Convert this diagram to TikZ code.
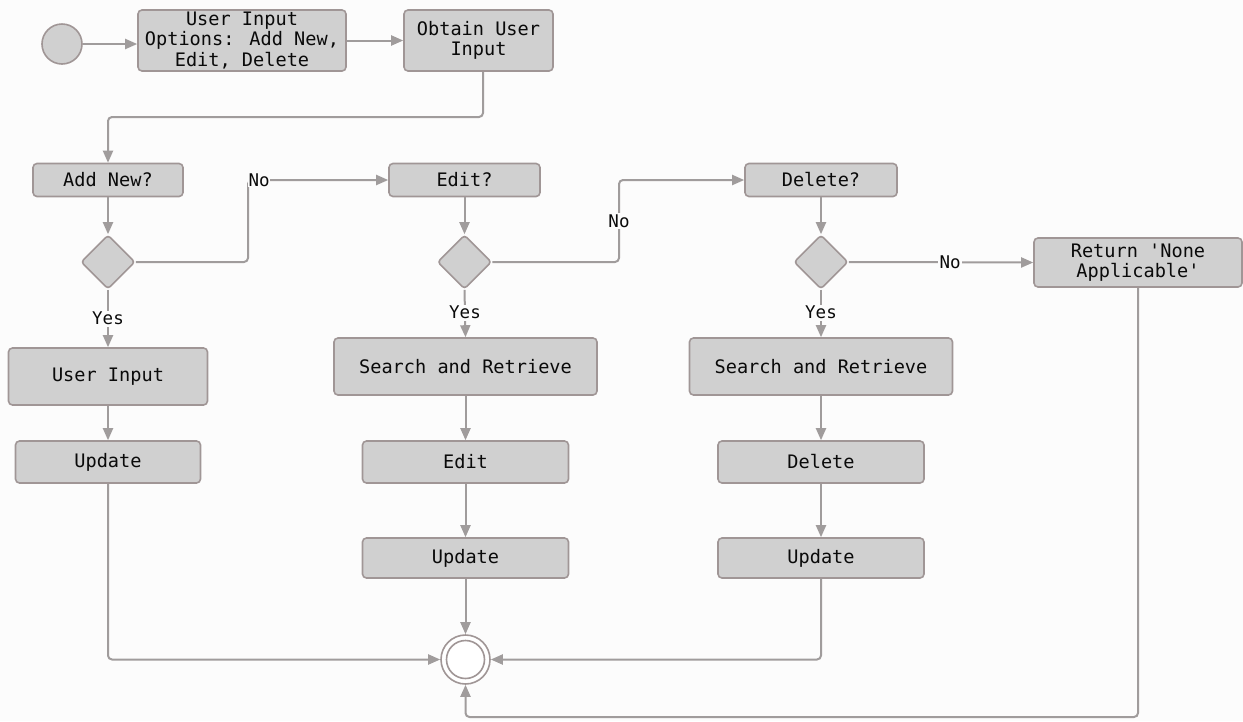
\documentclass[tikz,border=0pt]{standalone}
\usepackage{fontspec}
\usetikzlibrary{arrows.meta,shapes.geometric}
\newfontfamily\monofnt{DejaVu Sans Mono}
\definecolor{bgcol}{HTML}{FCFCFC}
\definecolor{boxfill}{HTML}{D0D0D0}
\definecolor{boxline}{HTML}{A09696}
\definecolor{linecol}{HTML}{A09C9C}
\definecolor{txtcol}{HTML}{0A0A0A}
\tikzset{
  box/.style={draw=boxline, fill=boxfill, rounded corners=4pt, line width=1.6pt,
    inner sep=0pt, align=center, text=txtcol, font=\monofnt\fontsize{18.6}{20.5}\selectfont},
  dia/.style={draw=boxline, fill=boxfill, diamond, line width=1.6pt, inner sep=0pt,
    minimum width=54pt, minimum height=54pt, rounded corners=3pt},
  arr/.style={draw=linecol, line width=2pt, -{Triangle[length=12pt,width=10pt]}},
  lbl/.style={fill=bgcol, inner sep=1.5pt, text=txtcol, font=\monofnt\fontsize{17.5}{19}\selectfont}
}
\begin{document}
\begin{tikzpicture}[x=1pt,y=-1pt]
\fill[bgcol] (0,0) rectangle (1243,721);
\useasboundingbox (0,0) rectangle (1243,721);

\node[circle, draw=boxline, fill=boxfill, line width=1.6pt, minimum size=40pt, inner sep=0pt] (start) at (62,44) {};
\node[box, minimum width=208pt, minimum height=61pt] (b1) at (242,40.5) {User Input\\Options: Add New,\\Edit, Delete};
\node[box, minimum width=149pt, minimum height=61pt] (b2) at (478.5,40.5) {Obtain User\\Input};

\node[box, minimum width=150pt, minimum height=33pt] (add) at (108,180) {Add New?};
\node[box, minimum width=151pt, minimum height=33pt] (edit) at (464.5,180) {Edit?};
\node[box, minimum width=152pt, minimum height=33pt] (del) at (821,180) {Delete?};

\node[dia] (d1) at (108,262) {};
\node[dia] (d2) at (464.5,262) {};
\node[dia] (d3) at (821,262) {};

\node[box, minimum width=208pt, minimum height=49pt] (ret) at (1138,262.5) {Return 'None\\Applicable'};

\node[box, minimum width=199pt, minimum height=57pt] (ui) at (108,376.5) {User Input};
\node[box, minimum width=185pt, minimum height=42pt] (up1) at (108,462) {Update};

\node[box, minimum width=263pt, minimum height=57pt] (sr1) at (465.5,366.5) {Search and Retrieve};
\node[box, minimum width=206pt, minimum height=42pt] (ed) at (465.5,462) {Edit};
\node[box, minimum width=206pt, minimum height=40pt] (up2) at (465.5,558) {Update};

\node[box, minimum width=263pt, minimum height=57pt] (sr2) at (821,366.5) {Search and Retrieve};
\node[box, minimum width=206pt, minimum height=42pt] (dl) at (821,462) {Delete};
\node[box, minimum width=206pt, minimum height=40pt] (up3) at (821,558) {Update};

\node[circle, draw=boxline, line width=1.6pt, fill=white, minimum size=49pt, inner sep=0pt] (end) at (465.5,659.5) {};
\draw[boxline, line width=1.6pt] (end.center) circle (19pt);

\coordinate (c1) at (483,117);
\coordinate (c2) at (248,262);
\coordinate (c3) at (619,262);
\coordinate (c4) at (0,717);

\draw[arr] (start) -- (start -| b1.west);
\draw[arr] (b1) -- (b2);
\draw[arr, rounded corners=4pt] (b2.south -| c1) -- (c1) -| (add.north);
\draw[arr] (add) -- (d1);
\draw[arr] (edit) -- (d2);
\draw[arr] (del) -- (d3);

\draw[arr, rounded corners=4pt] (d1.east) -- (c2) |- (edit.west);
\node[lbl, anchor=west, inner sep=0.5pt] at (c2 |- edit.west) {No};
\draw[arr, rounded corners=4pt] (d2.east) -- (c3) |- (del.west);
\node[lbl] at (619,221) {No};
\draw[arr] (d3.east) -- (ret.west) node[lbl, pos=0.55] {No};

\draw[arr] (d1.south) -- (ui.north) node[lbl, pos=0.5] {Yes};
\draw[arr] (d2.south) -- (sr1.north) node[lbl, pos=0.48] {Yes};
\draw[arr] (d3.south) -- (sr2.north) node[lbl, pos=0.48] {Yes};

\draw[arr] (ui) -- (up1);
\draw[arr] (sr1) -- (ed);
\draw[arr] (ed) -- (up2);
\draw[arr] (sr2) -- (dl);
\draw[arr] (dl) -- (up3);

\draw[arr, rounded corners=4pt] (up1.south) |- (end.west);
\draw[arr] (up2.south) -- (end.north);
\draw[arr, rounded corners=4pt] (up3.south) |- (end.east);
\draw[arr, rounded corners=4pt] (ret.south) -- (ret.south |- c4) -| (end.south);
\end{tikzpicture}
\end{document}
